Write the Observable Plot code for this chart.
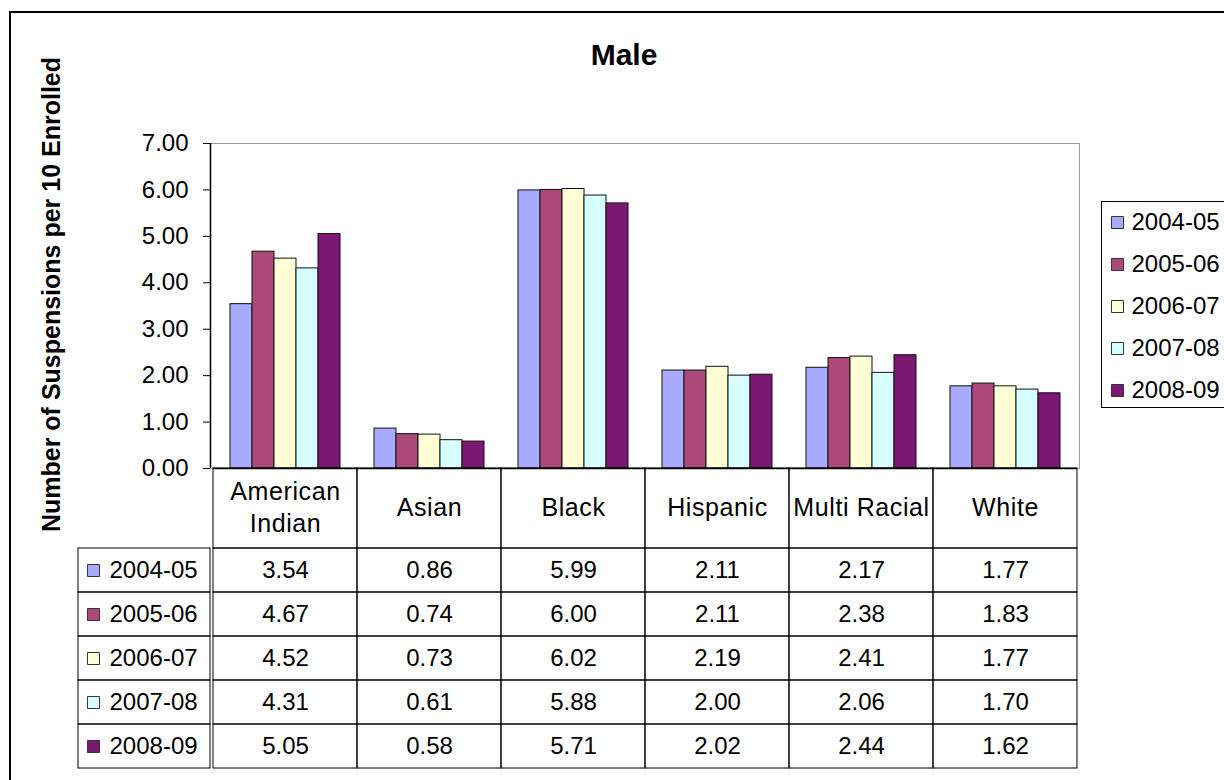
<!DOCTYPE html>
<html><head><meta charset="utf-8">
<script src="https://cdn.jsdelivr.net/npm/d3@7"></script>
<script src="https://cdn.jsdelivr.net/npm/@observablehq/plot@0.6"></script>
<style>
html,body{margin:0;padding:0;background:#fff;overflow:hidden;width:1224px;height:780px;}
#wrap{position:relative;width:1224px;height:780px;overflow:hidden;font-family:"Liberation Sans",Arial,sans-serif;background:#fff;color:#000;}
#border{position:absolute;left:9px;top:11px;width:1400px;height:1000px;border:2px solid #000;}
#legbox{position:absolute;left:1101px;top:201px;width:300px;height:205px;border-top:1.5px solid #000;border-bottom:1.5px solid #000;border-left:1.5px solid #000;}
#title{position:absolute;left:0;width:1248px;top:40px;line-height:30px;text-align:center;font-weight:bold;font-size:30px;}
#ylab{position:absolute;left:-249px;top:282px;width:600px;height:25px;line-height:25px;text-align:center;font-weight:bold;font-size:25px;transform:rotate(-90deg);white-space:nowrap;}
#wrap svg.layer{position:absolute;max-width:none !important;}
.hdr text{letter-spacing:0.6px;}
</style>
</head><body>
<div id="wrap">
  <div id="border"></div>
  <div id="legbox"></div>
  <div id="title">Male</div>
  <div id="ylab">Number of Suspensions per 10 Enrolled</div>
</div>
<script>
const categories = ["American Indian", "Asian", "Black", "Hispanic", "Multi Racial", "White"];
const categoryLabels = ["American\nIndian", "Asian", "Black", "Hispanic", "Multi Racial", "White"];
const years = ["2004-05", "2005-06", "2006-07", "2007-08", "2008-09"];
const v2004 = [3.54, 0.86, 5.99, 2.11, 2.17, 1.77];
const v2005 = [4.67, 0.74, 6.00, 2.11, 2.38, 1.83];
const v2006 = [4.52, 0.73, 6.02, 2.19, 2.41, 1.77];
const v2007 = [4.31, 0.61, 5.88, 2.00, 2.06, 1.70];
const v2008 = [5.05, 0.58, 5.71, 2.02, 2.44, 1.62];
const yTicks = [0, 1, 2, 3, 4, 5, 6, 7];
const colors = ["#A9A9FF", "#AB4A78", "#FFFFD6", "#D6FFFF", "#7B1874"];

const series = [v2004, v2005, v2006, v2007, v2008];
const data = [];
years.forEach((yr, j) => categories.forEach((c, i) => data.push({cat: c, year: yr, value: series[j][i]})));
const labelOf = Object.fromEntries(categories.map((c, i) => [c, categoryLabels[i]]));

const wrap = document.getElementById("wrap");
const FONT = '"Liberation Sans", Arial, sans-serif';
const baseStyle = {background: "transparent", fontFamily: FONT, fontSize: "24px", color: "#000", overflow: "visible"};
const colorScale = {domain: years, range: colors};

function place(svg, left, top, cls) {
  svg.classList.add("layer");
  if (cls) svg.classList.add(cls);
  svg.style.left = left + "px";
  svg.style.top = top + "px";
  svg.style.maxWidth = "none";
  wrap.appendChild(svg);
}

// plot area frame + y axis
place(Plot.plot({
  width: 1224, height: 470, marginLeft: 210, marginRight: 145, marginTop: 143, marginBottom: 2,
  style: baseStyle,
  x: {domain: [0, 1], axis: null},
  y: {domain: [0, 7], axis: null},
  marks: [
    Plot.frame({stroke: "#999", strokeWidth: 1}),
    Plot.ruleX([0], {stroke: "#000", strokeWidth: 1.5}),
    Plot.axisY({ticks: yTicks, tickFormat: d => d.toFixed(2), tickSize: 7, tickPadding: 15, fontSize: 24, label: null, stroke: "#000"})
  ]
}), 0, 0);

// bars
place(Plot.plot({
  width: 1224, height: 470, marginLeft: 210, marginRight: 145, marginTop: 143, marginBottom: 2,
  style: baseStyle,
  fx: {domain: categories, padding: 0, axis: null},
  x: {domain: years, paddingInner: 0, paddingOuter: 0.75, axis: null},
  y: {domain: [0, 7], axis: null},
  color: colorScale,
  marks: [
    Plot.barY(data, {fx: "cat", x: "year", y: "value", fill: "year", stroke: "#111", strokeWidth: 1}),
    Plot.ruleY([0], {stroke: "#000", strokeWidth: 1.5})
  ]
}), 0, 0);

// table header row
place(Plot.plot({
  width: 1224, height: 80, marginLeft: 210, marginRight: 145, marginTop: 0, marginBottom: 0,
  style: baseStyle,
  x: {domain: categories, padding: 0, axis: null},
  marks: [
    Plot.cell(categories, {x: d => d, fill: "none", stroke: "#000", strokeWidth: 1}),
    Plot.text(categories, {x: d => d, text: d => labelOf[d], fontSize: 25, lineHeight: 1.27, dy: -3, fill: "#000"})
  ]
}), 0, 468, "hdr");

// table body
place(Plot.plot({
  width: 1224, height: 220, marginLeft: 210, marginRight: 145, marginTop: 0, marginBottom: 0,
  style: baseStyle,
  x: {domain: categories, padding: 0, axis: null},
  y: {domain: years, padding: 0, axis: null},
  marks: [
    Plot.cell(data, {x: "cat", y: "year", fill: "none", stroke: "#000", strokeWidth: 1}),
    Plot.text(data, {x: "cat", y: "year", text: d => d.value.toFixed(2), fontSize: 24, fill: "#000"})
  ]
}), 0, 548);

// table legend column
place(Plot.plot({
  width: 1224, height: 220, marginLeft: 78, marginRight: 1014, marginTop: 0, marginBottom: 0,
  style: baseStyle,
  y: {type: "band", domain: years, padding: 0, axis: null},
  color: colorScale,
  marks: [
    Plot.cell(years, {y: d => d, fill: "none", stroke: "#000", strokeWidth: 1}),
    Plot.dot(years, {y: d => d, frameAnchor: "left", dx: 15, symbol: "square", r: 6.8, fill: d => d, stroke: "#333", strokeWidth: 1}),
    Plot.text(years, {y: d => d, frameAnchor: "left", dx: 31, textAnchor: "start", fontSize: 24, fill: "#000"})
  ]
}), 0, 548);

// right legend entries (box is the #legbox div, open on the right)
place(Plot.plot({
  width: 120, height: 207, marginLeft: 0, marginRight: 0, marginTop: 0, marginBottom: 0,
  style: baseStyle,
  y: {type: "band", domain: years, padding: 0, range: [-1, 210], axis: null},
  color: colorScale,
  marks: [
    Plot.dot(years, {y: d => d, frameAnchor: "left", dx: 16, symbol: "square", r: 6.8, fill: d => d, stroke: "#333", strokeWidth: 1}),
    Plot.text(years, {y: d => d, frameAnchor: "left", dx: 30, textAnchor: "start", fontSize: 24, fill: "#000"})
  ]
}), 1101, 201);
</script>
</body></html>
